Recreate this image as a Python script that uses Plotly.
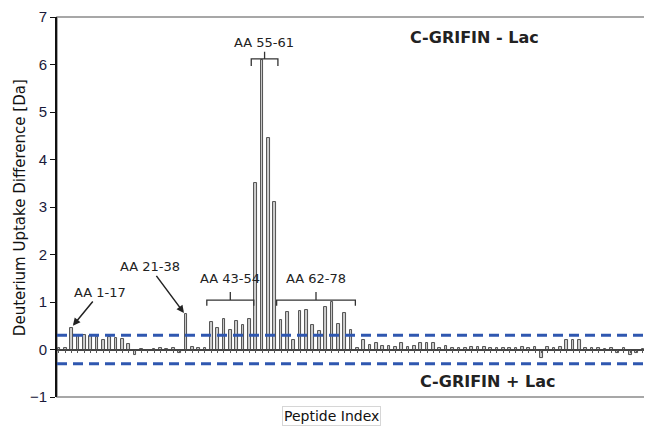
import plotly.graph_objects as go

# ---- data ----
peptide_index = list(range(93))
uptake_diff = [
    0.03, 0.04, 0.46, 0.30, 0.30, 0.28, 0.27, 0.20, 0.27, 0.25,
    0.22, 0.12, -0.12, 0.02, -0.04, 0.02, 0.03, 0.02, 0.03, -0.07,
    0.75, 0.05, 0.04, 0.03, 0.58, 0.46, 0.65, 0.42, 0.61, 0.51,
    0.65, 3.50, 6.10, 4.45, 3.10, 0.62, 0.79, 0.21, 0.81, 0.83,
    0.51, 0.38, 0.89, 1.00, 0.53, 0.77, 0.42, 0.03, 0.20, 0.10,
    0.13, 0.07, 0.07, 0.06, 0.13, 0.06, 0.08, 0.13, 0.13, 0.13,
    0.04, 0.08, 0.04, 0.04, 0.04, 0.06, 0.06, 0.06, 0.04, 0.03,
    0.04, 0.03, 0.04, 0.05, 0.04, 0.06, -0.17, 0.06, 0.04, 0.05,
    0.20, 0.20, 0.20, 0.04, 0.03, 0.03, 0.02, 0.03, -0.07, 0.03,
    -0.12, -0.08, 0.02,
]
threshold_upper = 0.3
threshold_lower = -0.3
y_ticks = [-1, 0, 1, 2, 3, 4, 5, 6, 7]

# bracket groups: (label, first index, last index)
brackets = [("AA 43-54", 24, 30), ("AA 62-78", 35, 46)]
top_bracket = ("AA 55-61", 31, 34)

fig = go.Figure()
fig.add_trace(go.Bar(
    x=peptide_index, y=uptake_diff, width=0.42,
    marker=dict(color="#cfcfcf", line=dict(color="#3f3f3f", width=0.9)),
    showlegend=False,
))

FONT = "Liberation Sans, Arial, sans-serif"
WFONT = "DejaVu Sans, sans-serif"

# threshold dashed lines
for yv in (threshold_upper, threshold_lower):
    fig.add_shape(type="line", xref="paper", yref="y", x0=0, x1=1, y0=yv, y1=yv,
                  line=dict(color="#2f57b0", width=3, dash="10px,6px"), layer="above")

# frame
fig.add_shape(type="rect", xref="paper", yref="paper", x0=0, x1=1, y0=0, y1=1,
              line=dict(color="#8a8a8a", width=1.5), layer="below")

# brackets for groups
def bracket(x0, x1, yh, ylow, ytop):
    xm = (x0 + x1) / 2
    path = (f"M {x0},{ylow} L {x0},{yh} L {x1},{yh} L {x1},{ylow} "
            f"M {xm},{yh} L {xm},{ytop}")
    fig.add_shape(type="path", xref="x", yref="y", path=path,
                  line=dict(color="#333333", width=1.3))

for label, a, b in brackets:
    bracket(a - 0.7, b + 0.7, 1.04, 0.92, 1.21)
    fig.add_annotation(x=(a + b) / 2, y=1.5, text=label, showarrow=False,
                       xanchor="center",
                       font=dict(family=WFONT, size=13, color="#222"))

label, a, b = top_bracket
bracket(a - 0.7, b + 0.5, 6.12, 5.97, 6.27)
fig.add_annotation(x=(a + b) / 2 - 0.2, y=6.47, text=label, showarrow=False,
                   xanchor="center",
                   font=dict(family=WFONT, size=13, color="#222"))

# arrow annotations
fig.add_annotation(x=2.2, y=0.5, ax=6.5, ay=1.2, axref="x", ayref="y",
                   text="AA 1-17", showarrow=True, arrowhead=2, arrowsize=1,
                   arrowwidth=1.5, arrowcolor="#222",
                   font=dict(family=WFONT, size=13, color="#222"))
fig.add_annotation(x=19.7, y=0.77, ax=14.3, ay=1.74, axref="x", ayref="y",
                   text="AA 21-38", showarrow=True, arrowhead=2, arrowsize=1,
                   arrowwidth=1.5, arrowcolor="#222",
                   font=dict(family=WFONT, size=13, color="#222"))

# state labels
fig.add_annotation(xref="paper", yref="paper", x=0.706, y=0.947, text="<b>C-GRIFIN - Lac</b>",
                   showarrow=False, xanchor="center", yanchor="middle",
                   font=dict(family=WFONT, size=16, color="#222"))
fig.add_annotation(xref="paper", yref="paper", x=0.728, y=0.04, text="<b>C-GRIFIN + Lac</b>",
                   showarrow=False, xanchor="center", yanchor="middle",
                   font=dict(family=WFONT, size=16, color="#222"))

# x axis title box
fig.add_annotation(xref="paper", yref="paper", x=0.465, y=-0.025, yanchor="top",
                   xanchor="center",
                   text="Peptide Index", showarrow=False,
                   bordercolor="#d6d6d6", borderwidth=1, borderpad=1,
                   font=dict(family=WFONT, size=14, color="#111"))

# y axis title
fig.add_annotation(xref="paper", yref="paper", x=-0.0626, y=0.497, textangle=-90,
                   xanchor="center", yanchor="middle",
                   text="Deuterium Uptake Difference [Da]", showarrow=False,
                   font=dict(family=WFONT, size=15, color="#111"))

# page body adds an 8px offset, so the figure is sized 8px smaller
fig.update_layout(
    width=644, height=419,
    margin=dict(l=49, r=4, t=9, b=30),
    plot_bgcolor="white", paper_bgcolor="white",
    bargap=0,
    font=dict(family=FONT, color="#111"),
    xaxis=dict(range=[-0.3, 92.8], showgrid=False, zeroline=False,
               anchor="free", position=0.125,
               showline=True, linecolor="#444", linewidth=1.5,
               ticks="outside", ticklen=3, tickcolor="#555", dtick=1, tick0=0,
               showticklabels=False),
    yaxis=dict(range=[-1, 7], tickvals=y_ticks, showgrid=False, zeroline=False,
               showline=True, linecolor="#111", linewidth=2,
               ticks="outside", ticklen=5, tickcolor="#111", automargin=False,
               tickfont=dict(family=FONT, size=15, color="#1a1a3a")),
)

fig.write_html("out.html")
